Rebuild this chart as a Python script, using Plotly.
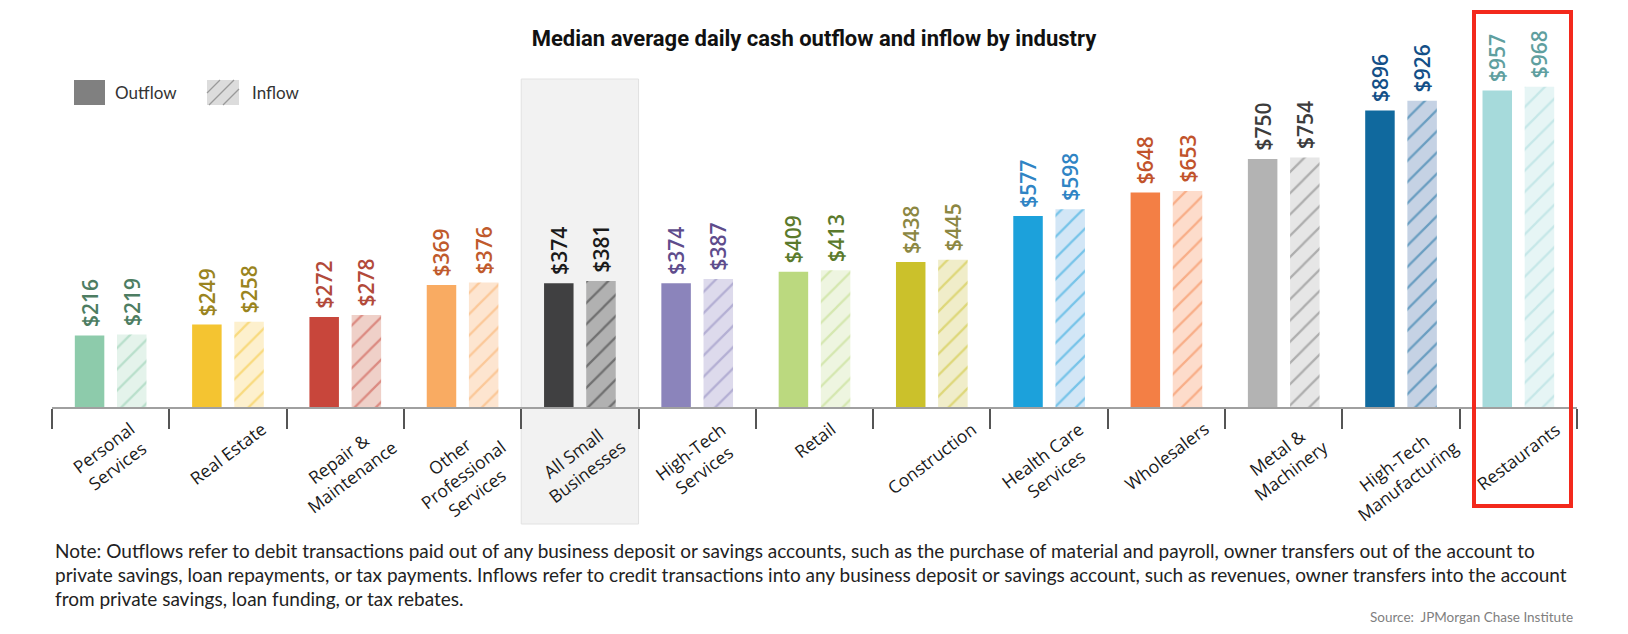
import plotly.graph_objects as go

# industries, left to right
industries = ["Personal Services", "Real Estate", "Repair & Maintenance",
              "Other Professional Services", "All Small Businesses",
              "High-Tech Services", "Retail", "Construction",
              "Health Care Services", "Wholesalers", "Metal & Machinery",
              "High-Tech Manufacturing", "Restaurants"]
tick_text = ["Personal<br>Services", "Real Estate", "Repair &<br>Maintenance",
             "Other<br>Professional<br>Services", "All Small<br>Businesses",
             "High-Tech<br>Services", "Retail", "Construction",
             "Health Care<br>Services", "Wholesalers", "Metal &<br>Machinery",
             "High-Tech<br>Manufacturing", "Restaurants"]

# median average daily cash flows ($)
outflow = [216, 249, 272, 369, 374, 374, 409, 438, 577, 648, 750, 896, 957]
inflow = [219, 258, 278, 376, 381, 387, 413, 445, 598, 653, 754, 926, 968]

outflow_colors = ["#8dcbab", "#f4c431", "#c8463b", "#f9ab62", "#404041", "#8b84bb",
                  "#bbd97f", "#cbc12b", "#1ca1db", "#f37f45", "#b3b3b3", "#10699e", "#a6dadb"]
inflow_fill = ["#e4f3eb", "#fdf0cd", "#efd0c8", "#fde5d0", "#b1b1b1", "#dddaec",
               "#eef5e0", "#f0edc9", "#d2e6f6", "#fddccb", "#e6e6e6", "#c5d2e4", "#e6f5f5"]
inflow_hatch = ["#8dcbab", "#f4c431", "#c8463b", "#f9ab62", "#2f2f30", "#8b84bb",
                "#bbd97f", "#cbc12b", "#1ca1db", "#f37f45", "#767676", "#10699e", "#a6dadb"]
label_colors = ["#4d7d62", "#9a8420", "#b24a3a", "#c05a2c", "#1a1a1a", "#5e4c8c",
                "#5b7a2c", "#8c8742", "#2f84c4", "#c1532b", "#3c3c3c", "#134f87", "#5f9f9f"]

note_lines = [
    "Note: Outflows refer to debit transactions paid out of any business deposit or savings "
    "accounts, such as the purchase of material and payroll, owner transfers out of the account to",
    "private savings, loan repayments, or tax payments. Inflows refer to credit transactions into any "
    "business deposit or savings account, such as revenues, owner transfers into the account",
    "from private savings, loan funding, or tax rebates.",
]

W, H = 1628, 634
L, R, T, B = 52, 51, 10, 227
PW, PH = W - L - R, H - T - B
N = len(industries)


def px(xp):
    return (xp - L) / PW


def py(yp):
    return (H - B - yp) / PH


def cat(i):
    return (i + 0.5) / N


BAR_W = 0.2515
GAP = 0.054
VAL_FONT = dict(size=21, family="Open Sans", weight=600)

fig = go.Figure()
fig.add_trace(go.Bar(
    x=industries, y=outflow, name="Outflow",
    width=BAR_W, offset=-GAP - BAR_W,
    marker=dict(color=outflow_colors, line=dict(width=0)),
    text=["\u00a0$" + str(v) for v in outflow],
    textposition="outside", textangle=-90, constraintext="none", cliponaxis=False,
    textfont=dict(color=label_colors, **VAL_FONT),
    hoverinfo="skip", showlegend=False,
))
# one inflow trace per industry so each hatch gets its own colour
for i, name in enumerate(industries):
    fig.add_trace(go.Bar(
        x=[name], y=[inflow[i]], name="Inflow",
        width=BAR_W, offset=GAP,
        marker=dict(color=inflow_fill[i], line=dict(width=0),
                    pattern=dict(shape="/", fgcolor=inflow_hatch[i], bgcolor=inflow_fill[i],
                                 size=15, solidity=0.15)),
        text=["\u00a0$" + str(inflow[i])],
        textposition="outside", textangle=-90, constraintext="none", cliponaxis=False,
        textfont=dict(color=label_colors[i], **VAL_FONT),
        hoverinfo="skip", showlegend=False,
    ))

shapes = [
    # "All Small Businesses" highlight
    dict(type="rect", xref="paper", yref="paper", x0=cat(3.5), x1=cat(4.5),
         y0=py(524), y1=py(79), fillcolor="#f2f2f2",
         line=dict(color="#e2e2e2", width=1), layer="below"),
    # restaurants red frame
    dict(type="rect", xref="paper", yref="paper", x0=px(1474), x1=px(1571),
         y0=py(506), y1=py(12), line=dict(color="#f3291c", width=4)),
    # legend swatches
    dict(type="rect", xref="paper", yref="paper", x0=px(74), x1=px(105),
         y0=py(105), y1=py(80), fillcolor="#808080", line=dict(width=0)),
    dict(type="rect", xref="paper", yref="paper", x0=px(207), x1=px(239),
         y0=py(105), y1=py(80), fillcolor="#dcdcdc", line=dict(width=0)),
]
# hatch lines for the inflow swatch
for c in (300, 314, 328):
    xa, xb = max(207, c - 105), min(239, c - 80)
    shapes.append(dict(type="line", xref="paper", yref="paper",
                       x0=px(xa), y0=py(c - xa), x1=px(xb), y1=py(c - xb),
                       line=dict(color="#9a9a9a", width=1.3)))

annotations = []
for name, lab in zip(industries, tick_text):
    annotations.append(dict(
        x=name, xref="x", y=py(414), yref="paper", text=lab,
        textangle=-37, xanchor="center", yanchor="top", align="center",
        showarrow=False, font=dict(family="Open Sans", size=17.5, color="#1a1a1a")))

annotations += [
    dict(x=px(113), y=py(92), xref="paper", yref="paper", text="Outflow",
         xanchor="left", yanchor="middle", showarrow=False,
         font=dict(family="Lato", size=17, color="#333333")),
    dict(x=px(250), y=py(92), xref="paper", yref="paper", text="Inflow",
         xanchor="left", yanchor="middle", showarrow=False,
         font=dict(family="Lato", size=17, color="#333333")),
    dict(x=px(1575), y=py(617), xref="paper", yref="paper", xanchor="right", yanchor="middle",
         showarrow=False, text="Source:\u00a0 JPMorgan Chase Institute",
         font=dict(family="Lato", size=13.5, color="#7f7f7f")),
]
for k, line in enumerate(note_lines):
    annotations.append(dict(
        x=px(53), y=py(550 + 24 * k), xref="paper", yref="paper",
        xanchor="left", yanchor="middle", showarrow=False, text=line,
        font=dict(family="Lato", size=19, color="#222222")))

fig.update_layout(
    width=W, height=H,
    margin=dict(l=L, r=R, t=T, b=B),
    paper_bgcolor="white", plot_bgcolor="rgba(0,0,0,0)",
    barmode="overlay",
    title=dict(text="<b>Median average daily cash outflow and inflow by industry</b>",
               x=0.5, xanchor="center", y=1 - 38 / H, yanchor="middle",
               font=dict(family="Roboto", size=22, color="#111111")),
    shapes=shapes, annotations=annotations,
)
fig.update_xaxes(type="category", categoryorder="array", categoryarray=industries,
                 range=[-0.5, N - 0.5], showline=True, linecolor="#a0a0a0", linewidth=1.5,
                 ticks="outside", tickson="boundaries", ticklen=20, tickwidth=1.5,
                 tickcolor="#555555", showticklabels=False, showgrid=False, zeroline=False)
fig.update_yaxes(range=[0, 1200], visible=False)

fig.write_html("out.html", config={"displayModeBar": False},
               post_script="document.body.style.margin='0px';")
